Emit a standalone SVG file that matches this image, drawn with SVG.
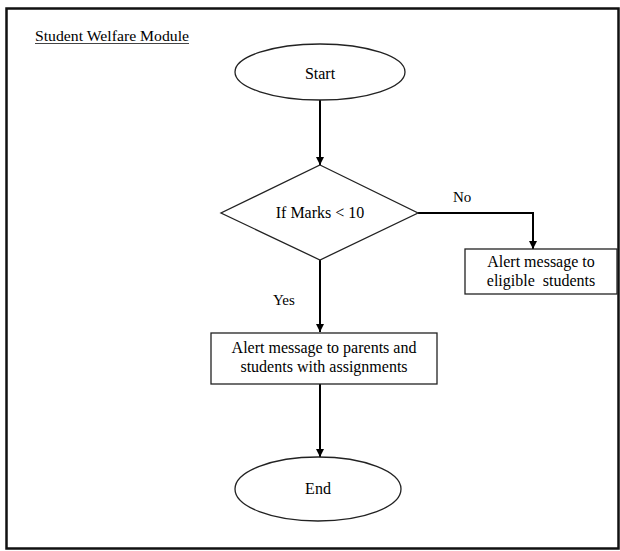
<svg xmlns="http://www.w3.org/2000/svg" width="620" height="551" viewBox="0 0 620 551">
<style>
text{font-family:"Liberation Serif","DejaVu Serif","Times New Roman",serif;fill:#000;}
.shape{fill:#fff;stroke:#222;stroke-width:1.3;}
.conn{fill:none;stroke:#000;stroke-width:2;}
.lbl{font-size:15px;}
.node{font-size:16px;text-anchor:middle;}
</style>
<defs>
<marker id="arr" viewBox="0 0 10 10" refX="10" refY="5" markerWidth="4" markerHeight="4" orient="auto" markerUnits="strokeWidth">
<path d="M0,0 L10,5 L0,10 z" fill="#000"/>
</marker>
</defs>
<rect x="0" y="0" width="620" height="551" fill="#fff"/>
<rect id="frame" x="6.5" y="8.5" width="612" height="540" fill="none" stroke="#111" stroke-width="2.5"/>
<g id="title">
<text x="35" y="41" class="lbl" textLength="154" lengthAdjust="spacingAndGlyphs">Student Welfare Module</text>
<line x1="35" y1="43.5" x2="189" y2="43.5" stroke="#444" stroke-width="1"/>
</g>
<g id="connectors">
<line class="conn" x1="320" y1="100" x2="320" y2="165" marker-end="url(#arr)"/>
<polyline class="conn" points="418,213 533,213 533,249" marker-end="url(#arr)"/>
<line class="conn" x1="320" y1="260" x2="320" y2="332" marker-end="url(#arr)"/>
<line class="conn" x1="320" y1="384" x2="320" y2="457" marker-end="url(#arr)"/>
</g>
<g id="start">
<ellipse class="shape" cx="320" cy="72" rx="85" ry="28"/>
<text x="320" y="79" class="node">Start</text>
</g>
<g id="decision">
<polygon class="shape" points="320,165 418,213 320,260 221,213"/>
<text x="320" y="218" class="node">If Marks &lt; 10</text>
</g>
<g id="label-no">
<text x="453" y="202" class="lbl">No</text>
</g>
<g id="label-yes">
<text x="273" y="305" class="lbl">Yes</text>
</g>
<g id="eligible">
<rect class="shape" x="465" y="249" width="152" height="45"/>
<text x="541" y="267" class="node" xml:space="preserve">Alert message to</text>
<text x="541" y="286" class="node" xml:space="preserve">eligible  students</text>
</g>
<g id="parents">
<rect class="shape" x="211" y="333" width="226" height="51"/>
<text x="324" y="353" class="node">Alert message to parents and</text>
<text x="324" y="372" class="node">students with assignments</text>
</g>
<g id="end">
<ellipse class="shape" cx="318" cy="489" rx="83" ry="32"/>
<text x="318" y="494" class="node">End</text>
</g>
</svg>
